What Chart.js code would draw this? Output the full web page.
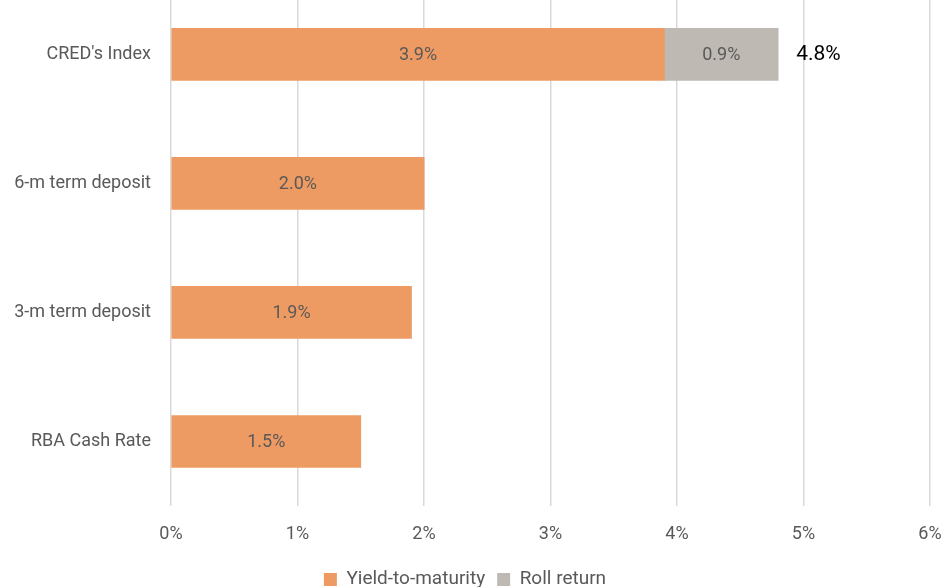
<!DOCTYPE html>
<html lang="en">
<head>
    <meta charset="UTF-8">
    <title>CRED's Index vs cash alternatives</title>
    <script src="https://cdn.jsdelivr.net/npm/chart.js"></script>
    <style>
        html, body { margin: 0; padding: 0; background: #fff; overflow: hidden; }
        .chart-container {
            position: absolute;
            left: 0;
            top: -33px;
            width: 943px;
            height: 636px;
        }
    </style>
</head>
<body>
    <div class="chart-container">
        <canvas id="chart"></canvas>
    </div>

    <script>
        const categories = ["CRED's Index", '6-m term deposit', '3-m term deposit', 'RBA Cash Rate'];
        const yieldToMaturity = [3.9, 2.0, 1.9, 1.5];
        const rollReturn = [0.9, 0, 0, 0];
        const seriesNames = ['Yield-to-maturity', 'Roll return'];

        const FONT = "'Roboto', sans-serif";
        const textGrey = '#595959';

        // labels inside each segment, plus the total at the end of the stack
        const barLabels = {
            id: 'barLabels',
            afterDatasetsDraw(chart) {
                const ctx = chart.ctx;
                ctx.save();
                ctx.textBaseline = 'middle';
                chart.data.datasets.forEach((ds, di) => {
                    chart.getDatasetMeta(di).data.forEach((bar, i) => {
                        const v = ds.data[i];
                        if (!v) return;
                        ctx.font = '18px ' + FONT;
                        ctx.fillStyle = textGrey;
                        ctx.textAlign = 'center';
                        ctx.fillText(v.toFixed(1) + '%', (bar.x + bar.base) / 2, bar.y + 1);
                    });
                });
                const last = chart.getDatasetMeta(1).data;
                last.forEach((bar, i) => {
                    if (!rollReturn[i]) return;
                    const total = yieldToMaturity[i] + rollReturn[i];
                    ctx.font = '21px ' + FONT;
                    ctx.fillStyle = '#000';
                    ctx.textAlign = 'left';
                    ctx.fillText(total.toFixed(1) + '%', bar.x + 18, bar.y);
                });
                ctx.restore();
            }
        };

        new Chart(document.getElementById('chart'), {
            type: 'bar',
            data: {
                labels: categories,
                datasets: [{
                    label: seriesNames[0],
                    data: yieldToMaturity,
                    backgroundColor: '#EE9B63',
                    barThickness: 52
                }, {
                    label: seriesNames[1],
                    data: rollReturn,
                    backgroundColor: '#BEB9B3',
                    barThickness: 52
                }]
            },
            options: {
                indexAxis: 'y',
                responsive: true,
                maintainAspectRatio: false,
                animation: false,
                layout: { padding: { top: 0, right: 13, bottom: 4, left: 0 } },
                scales: {
                    x: {
                        stacked: true,
                        min: 0,
                        max: 6,
                        ticks: {
                            stepSize: 1,
                            padding: 18,
                            color: textGrey,
                            font: { family: FONT, size: 18 },
                            callback: v => v + '%'
                        },
                        grid: { color: '#D9D9D9', lineWidth: 1.5, drawTicks: false },
                        border: { display: false },
                        afterFit: s => {
                            s.height = 52;
                            s.paddingLeft = 0;
                            s.paddingRight = 0;
                        }
                    },
                    y: {
                        stacked: true,
                        ticks: {
                            padding: 12,
                            color: textGrey,
                            font: { family: FONT, size: 18 }
                        },
                        grid: { display: false },
                        border: { display: false },
                        afterFit: s => { s.width = 171; }
                    }
                },
                plugins: {
                    legend: {
                        position: 'bottom',
                        labels: {
                            boxWidth: 13,
                            boxHeight: 13,
                            padding: 12,
                            color: textGrey,
                            font: { family: FONT, size: 19 }
                        }
                    },
                    tooltip: { enabled: false }
                }
            },
            plugins: [barLabels]
        });
    </script>
</body>
</html>
